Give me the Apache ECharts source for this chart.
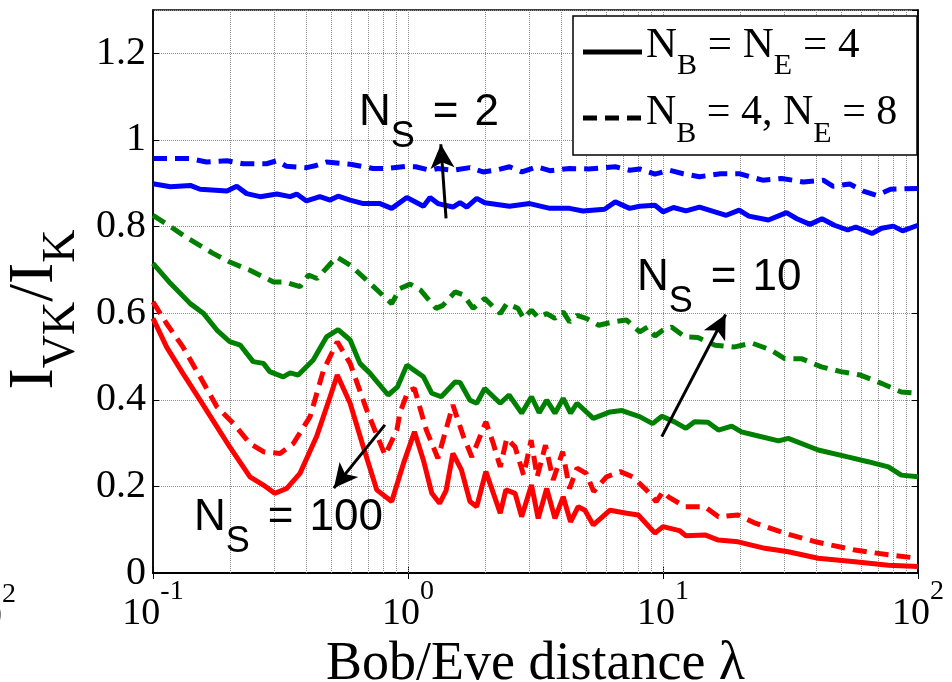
<!DOCTYPE html>
<html>
<head>
<meta charset="utf-8">
<script src="https://cdn.jsdelivr.net/npm/echarts@6/dist/echarts.min.js"></script>
<style>
  html, body { margin: 0; padding: 0; background: #fff; }
  #chart { width: 952px; height: 682px; }
</style>
</head>
<body>
<div id="chart"></div>
<script>
// N_S = 2 (blue)
const blueSolidX = [0.1, 0.117, 0.14, 0.153, 0.195, 0.213, 0.233, 0.263, 0.306, 0.345, 0.366, 0.4, 0.451, 0.495, 0.532, 0.593, 0.668, 0.777, 0.863, 0.99, 1.15, 1.22, 1.31, 1.5, 1.6, 1.7, 1.86, 2.0, 2.5, 3.0, 3.6, 4.3, 4.85, 5.9, 6.5, 7.4, 8.1, 9.3, 10.0, 11.0, 12.3, 13.9, 17.7, 19.9, 21.7, 25.9, 30.5, 33.5, 37.7, 42, 47, 53, 57, 66, 72, 80, 87, 100];
const blueSolidY = [0.899, 0.892, 0.895, 0.886, 0.882, 0.893, 0.876, 0.869, 0.875, 0.869, 0.875, 0.859, 0.869, 0.861, 0.87, 0.861, 0.853, 0.853, 0.842, 0.867, 0.847, 0.867, 0.853, 0.845, 0.855, 0.845, 0.865, 0.855, 0.847, 0.853, 0.842, 0.842, 0.836, 0.84, 0.857, 0.842, 0.847, 0.849, 0.834, 0.844, 0.836, 0.845, 0.826, 0.838, 0.824, 0.815, 0.832, 0.818, 0.805, 0.818, 0.803, 0.792, 0.799, 0.784, 0.796, 0.801, 0.79, 0.803];
const blueDashX = [0.1, 0.14, 0.162, 0.195, 0.226, 0.279, 0.306, 0.334, 0.4, 0.436, 0.479, 0.593, 0.73, 0.83, 0.99, 1.07, 1.22, 1.31, 1.5, 1.75, 1.97, 2.2, 2.5, 2.8, 3.2, 3.6, 4.3, 5.1, 6.5, 7.4, 8.1, 9.3, 10.6, 12, 13.9, 16.8, 19.9, 24.6, 29.2, 35.5, 42.5, 46.5, 54, 61, 69, 78, 100];
const blueDashY = [0.957, 0.957, 0.949, 0.952, 0.945, 0.945, 0.952, 0.939, 0.936, 0.941, 0.949, 0.944, 0.934, 0.934, 0.939, 0.938, 0.93, 0.934, 0.93, 0.936, 0.926, 0.93, 0.938, 0.926, 0.938, 0.929, 0.934, 0.933, 0.938, 0.93, 0.933, 0.921, 0.93, 0.922, 0.915, 0.922, 0.922, 0.907, 0.911, 0.903, 0.907, 0.893, 0.898, 0.882, 0.872, 0.886, 0.888];

// N_S = 10 (green)
const greenSolidX = [0.1, 0.117, 0.14, 0.158, 0.178, 0.2, 0.22, 0.247, 0.271, 0.287, 0.324, 0.345, 0.371, 0.425, 0.479, 0.532, 0.593, 0.648, 0.71, 0.836, 0.91, 0.99, 1.15, 1.24, 1.35, 1.53, 1.6, 1.75, 1.86, 2.0, 2.3, 2.49, 2.79, 3.05, 3.27, 3.5, 3.77, 4.06, 4.34, 4.6, 5.33, 6.2, 6.9, 8.1, 9.1, 9.9, 11.1, 12.3, 13.3, 15, 16.5, 18.6, 20.3, 23, 28.4, 31, 40.6, 53, 63.7, 76.5, 86, 100];
const greenSolidY = [0.715, 0.669, 0.622, 0.599, 0.561, 0.534, 0.526, 0.488, 0.484, 0.465, 0.453, 0.462, 0.457, 0.492, 0.545, 0.562, 0.538, 0.484, 0.461, 0.411, 0.43, 0.48, 0.453, 0.415, 0.407, 0.441, 0.44, 0.399, 0.392, 0.426, 0.392, 0.411, 0.369, 0.407, 0.37, 0.399, 0.369, 0.403, 0.369, 0.392, 0.357, 0.372, 0.375, 0.361, 0.345, 0.362, 0.349, 0.334, 0.349, 0.348, 0.33, 0.339, 0.326, 0.318, 0.305, 0.311, 0.284, 0.268, 0.257, 0.245, 0.226, 0.222];
const greenDashX = [0.1, 0.117, 0.135, 0.172, 0.2, 0.24, 0.297, 0.33, 0.377, 0.407, 0.44, 0.525, 0.593, 0.689, 0.863, 0.93, 1.02, 1.12, 1.29, 1.37, 1.53, 1.65, 1.8, 2.0, 2.3, 2.44, 2.7, 2.84, 3.05, 3.24, 3.5, 3.77, 4.06, 4.3, 4.6, 5.0, 5.6, 6.4, 7.2, 8.1, 8.7, 9.3, 10.0, 10.8, 12.2, 13.7, 16.0, 19.1, 22.3, 26.5, 30, 34.9, 41.8, 49.8, 59.5, 71.8, 86, 100];
const greenDashY = [0.826, 0.8, 0.775, 0.738, 0.718, 0.699, 0.672, 0.672, 0.661, 0.688, 0.68, 0.73, 0.711, 0.676, 0.622, 0.657, 0.667, 0.653, 0.611, 0.618, 0.649, 0.642, 0.611, 0.634, 0.599, 0.622, 0.611, 0.588, 0.607, 0.59, 0.599, 0.588, 0.603, 0.58, 0.595, 0.588, 0.572, 0.58, 0.584, 0.557, 0.568, 0.547, 0.561, 0.568, 0.545, 0.544, 0.526, 0.522, 0.531, 0.515, 0.495, 0.495, 0.476, 0.465, 0.457, 0.438, 0.418, 0.415];

// N_S = 100 (red)
const redSolidX = [0.1, 0.113, 0.131, 0.153, 0.178, 0.2, 0.24, 0.271, 0.3, 0.334, 0.377, 0.438, 0.495, 0.528, 0.593, 0.668, 0.754, 0.863, 0.96, 1.06, 1.15, 1.24, 1.33, 1.41, 1.5, 1.62, 1.75, 1.86, 2.02, 2.3, 2.42, 2.63, 2.79, 3.05, 3.24, 3.5, 3.77, 4.06, 4.34, 4.65, 4.94, 5.33, 6.2, 7.2, 8.0, 9.3, 10.0, 11.6, 12.3, 14.6, 16.5, 19.7, 25.1, 31, 40.6, 56.6, 76.5, 100];
const redSolidY = [0.588, 0.522, 0.461, 0.399, 0.338, 0.291, 0.222, 0.203, 0.184, 0.195, 0.23, 0.315, 0.407, 0.457, 0.392, 0.291, 0.192, 0.165, 0.253, 0.326, 0.26, 0.184, 0.161, 0.19, 0.276, 0.238, 0.165, 0.153, 0.234, 0.138, 0.192, 0.184, 0.13, 0.203, 0.126, 0.195, 0.126, 0.176, 0.118, 0.153, 0.145, 0.111, 0.145, 0.138, 0.134, 0.092, 0.107, 0.098, 0.086, 0.088, 0.076, 0.072, 0.057, 0.049, 0.034, 0.026, 0.018, 0.015];
const redDashX = [0.1, 0.113, 0.131, 0.153, 0.178, 0.207, 0.24, 0.271, 0.315, 0.355, 0.413, 0.466, 0.528, 0.593, 0.689, 0.813, 0.904, 0.93, 1.0, 1.06, 1.18, 1.31, 1.5, 1.65, 1.78, 2.02, 2.16, 2.3, 2.44, 2.63, 2.84, 3.04, 3.21, 3.46, 3.71, 4.04, 4.3, 4.6, 5.0, 5.35, 6.0, 6.8, 7.6, 8.6, 9.4, 10.0, 10.5, 12.2, 14.6, 16.5, 19.7, 23, 30, 39.7, 56.6, 76.5, 100];
const redDashY = [0.626, 0.576, 0.522, 0.453, 0.384, 0.345, 0.299, 0.28, 0.276, 0.299, 0.361, 0.468, 0.534, 0.484, 0.376, 0.272, 0.33, 0.37, 0.42, 0.426, 0.33, 0.265, 0.388, 0.315, 0.268, 0.349, 0.299, 0.245, 0.311, 0.291, 0.226, 0.307, 0.222, 0.295, 0.215, 0.28, 0.195, 0.242, 0.23, 0.188, 0.222, 0.234, 0.222, 0.192, 0.165, 0.188, 0.176, 0.153, 0.153, 0.13, 0.134, 0.115, 0.092, 0.072, 0.053, 0.042, 0.034];

// vertical grid positions (decades + log minors) and y tick step
const gridX = [0.2, 0.3, 0.4, 0.5, 0.6, 0.7, 0.8, 0.9, 1, 2, 3, 4, 5, 6, 7, 8, 9, 10, 20, 30, 40, 50, 60, 70, 80, 90];
const yTickStep = 0.2;

// annotation arrows: [tail, head] in data coords
const arrows = [
  [[1.41, 0.819], [1.345, 0.99]],
  [[9.89, 0.315], [17.6, 0.597]],
  [[0.812, 0.342], [0.512, 0.196]],
];

const SERIF = "'Liberation Serif', 'Times New Roman', serif";
const SANS = "'Liberation Sans', Arial, sans-serif";
const GRID_GRAY = "#8c8c8c";

const zip = (xs, ys) => xs.map((x, i) => [x, ys[i]]);

const makeLine = (name, xs, ys, color, dashed) => ({
  name,
  type: "line",
  data: zip(xs, ys),
  showSymbol: false,
  symbol: "none",
  z: 6,
  lineStyle: { color, width: 5, type: dashed ? [14, 8] : "solid" },
  emphasis: { disabled: true },
});

// rich styles for subscripts (main token + dropped sub token)
const subRich = (family, mainSize, subSize, drop) => ({
  m: { fontFamily: family, fontSize: mainSize, lineHeight: mainSize, verticalAlign: "top", color: "#000" },
  s: { fontFamily: family, fontSize: subSize, lineHeight: subSize, verticalAlign: "top", color: "#000", padding: [drop, 0, 0, 0] },
});

const supRich = {
  b: { fontFamily: SERIF, fontSize: 38, lineHeight: 38, verticalAlign: "bottom", color: "#000" },
  sup: { fontFamily: SERIF, fontSize: 28, lineHeight: 28, verticalAlign: "bottom", color: "#000", padding: [0, 0, 27, 0] },
};

const chart = echarts.init(document.getElementById("chart"), null, { renderer: "canvas" });

const nsRich = Object.assign(subRich(SANS, 44, 36, 29), {
  e: { fontFamily: SANS, fontSize: 44, lineHeight: 44, verticalAlign: "top", color: "#000", padding: [0, 0, 0, 18] },
  v: { fontFamily: SANS, fontSize: 44, lineHeight: 44, verticalAlign: "top", color: "#000", padding: [0, 0, 0, 16] },
});

const nsLabel = (x, y, value) => ({
  type: "text",
  z: 120,
  style: {
    x, y,
    text: "{m|N}{s|S}{e|=}{v|" + value + "}",
    verticalAlign: "top",
    align: "left",
    rich: nsRich,
  },
});

const option = {
  animation: false,
  backgroundColor: "#fff",
  grid: { left: 153, right: 34, top: 10, bottom: 109, show: true, borderColor: "#000", borderWidth: 1.5, outerBoundsMode: "none" },
  xAxis: [
    {
      type: "log",
      logBase: 10,
      min: 0.1,
      max: 100,
      splitNumber: 3,
      axisLine: { lineStyle: { color: "#000", width: 2 } },
      axisTick: { inside: true, length: 6, lineStyle: { color: "#000" } },
      axisLabel: {
        margin: 22,
        formatter: (v) => "{b|10}{sup|" + Math.round(Math.log10(v)) + "}",
        rich: supRich,
      },
      splitLine: { show: false },
      name: "Bob/Eve distance λ",
      nameLocation: "middle",
      nameGap: 61,
      nameTextStyle: { fontFamily: SERIF, fontSize: 54, color: "#000", lineHeight: 54 },
    },
    {
      type: "log",
      logBase: 10,
      min: 0.1,
      max: 100,
      splitNumber: 3,
      position: "top",
      axisLine: { lineStyle: { color: "#000", width: 1.5 } },
      axisTick: { inside: true, length: 6, lineStyle: { color: "#000" } },
      axisLabel: { show: false },
      splitLine: { show: false },
    },
  ],
  yAxis: [
    {
      type: "value",
      min: 0,
      max: 1.3,
      interval: yTickStep,
      axisLine: { show: true, lineStyle: { color: "#000", width: 1.5 } },
      axisTick: { inside: true, length: 6, lineStyle: { color: "#000" } },
      axisLabel: {
        showMaxLabel: false,
        margin: 7,
        color: "#000",
        fontFamily: SERIF,
        fontSize: 40,
        formatter: (v) => String(+v.toFixed(1)),
      },
      splitLine: { show: true, lineStyle: { color: GRID_GRAY, type: "dotted", width: 1 } },
      name: "{m|I}{s|VK}{m|/I}{s|K}",
      nameLocation: "middle",
      nameRotate: 90,
      nameGap: 52,
      nameTextStyle: { rich: subRich(SERIF, 64, 46, 36), padding: [0, 36, 0, 0] },
    },
    {
      type: "value",
      min: 0,
      max: 1.3,
      interval: yTickStep,
      position: "right",
      axisLine: { show: true, lineStyle: { color: "#000", width: 1.5 } },
      axisTick: { inside: true, length: 6, lineStyle: { color: "#000" } },
      axisLabel: { show: false },
      splitLine: { show: false },
    },
  ],
  series: [
    {
      name: "x-grid",
      type: "line",
      data: [],
      silent: true,
      markLine: {
        silent: true,
        z: 1,
        symbol: ["none", "none"],
        label: { show: false },
        emphasis: { disabled: true },
        lineStyle: { color: GRID_GRAY, type: "dotted", width: 1 },
        data: gridX.map((v) => ({ xAxis: v })),
      },
    },
    makeLine("NS2 solid", blueSolidX, blueSolidY, "#0000ff", false),
    makeLine("NS2 dashed", blueDashX, blueDashY, "#0000ff", true),
    makeLine("NS10 solid", greenSolidX, greenSolidY, "#008000", false),
    makeLine("NS10 dashed", greenDashX, greenDashY, "#008000", true),
    makeLine("NS100 solid", redSolidX, redSolidY, "#ff0000", false),
    makeLine("NS100 dashed", redDashX, redDashY, "#ff0000", true),
    {
      name: "arrows",
      type: "line",
      data: [],
      silent: true,
      z: 8,
      markLine: {
        silent: true,
        z: 8,
        symbol: ["none", "arrow"],
        symbolSize: [18, 24],
        label: { show: false },
        emphasis: { disabled: true },
        lineStyle: { color: "#000", type: "solid", width: 3 },
        data: arrows.map(([a, b]) => [{ coord: a }, { coord: b }]),
      },
    },
  ],
  graphic: [
    // legend box
    { type: "rect", z: 100, shape: { x: 573, y: 16, width: 344, height: 139 }, style: { fill: "#fff", stroke: "#000", lineWidth: 1.5 } },
    { type: "line", z: 101, shape: { x1: 583, y1: 52, x2: 642, y2: 52 }, style: { stroke: "#000", lineWidth: 5 } },
    { type: "line", z: 101, shape: { x1: 583, y1: 118, x2: 642, y2: 118 }, style: { stroke: "#000", lineWidth: 5, lineDash: [14, 8] } },
    {
      type: "text", z: 101,
      style: { x: 646, y: 24, text: "{m|N}{s|B}{m| = N}{s|E}{m| = 4}", verticalAlign: "top", align: "left", rich: subRich(SERIF, 43, 30, 27) },
    },
    {
      type: "text", z: 101,
      style: { x: 646, y: 92, text: "{m|N}{s|B}{m| = 4, N}{s|E}{m| = 8}", verticalAlign: "top", align: "left", rich: subRich(SERIF, 42, 30, 27) },
    },
    nsLabel(359, 90.5, "2"),
    nsLabel(637, 255.5, "10"),
    nsLabel(194, 495.5, "100"),
    // clipped leftover tick label at the left edge
    {
      type: "text", z: 101,
      style: { x: -36, y: 598, text: "{b|10}{sup|2}", verticalAlign: "top", align: "left", rich: supRich },
    },
  ],
};

chart.setOption(option);
</script>
</body>
</html>
